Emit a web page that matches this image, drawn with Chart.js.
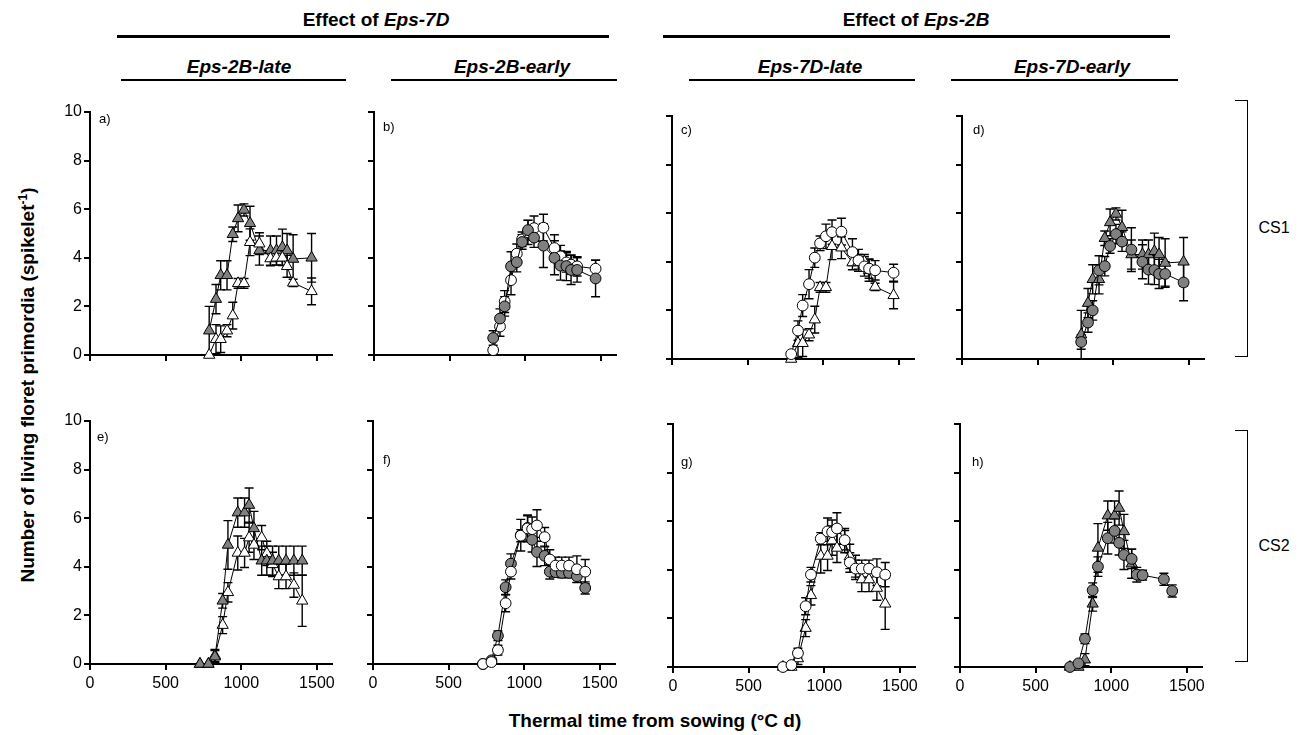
<!DOCTYPE html>
<html>
<head>
<meta charset="utf-8">
<title>Living floret primordia</title>
<script src="https://cdn.jsdelivr.net/npm/chart.js"></script>
<style>
body { margin: 0; background: #fff; font-family: "Liberation Sans", Arial, sans-serif; }
#fig { position: relative; width: 1309px; height: 735px; overflow: hidden; background: #fff; }
.t { position: absolute; white-space: nowrap; color: #000; line-height: 1; }
.c { transform: translate(-50%, -50%); }
.head { font-weight: bold; font-size: 19px; }
.sub { font-weight: bold; font-style: italic; font-size: 19px; }
.lt { font-size: 13px; }
.rule { position: absolute; background: #000; }
.brk { position: absolute; border: 1px solid #000; border-left: none; width: 12px; }
canvas { position: absolute; }
</style>
</head>
<body>
<div id="fig">
  <div class="t c head" style="left:376px; top:19px;">Effect of <i>Eps-7D</i></div>
  <div class="rule" style="left:117px; top:35px; width:492px; height:3px;"></div>
  <div class="t c head" style="left:916px; top:19px;">Effect of <i>Eps-2B</i></div>
  <div class="rule" style="left:663px; top:35px; width:507px; height:3px;"></div>

  <div class="t c sub" style="left:239px; top:66px;">Eps-2B-late</div>
  <div class="rule" style="left:121px; top:79px; width:225px; height:1.5px;"></div>
  <div class="t c sub" style="left:512px; top:66px;">Eps-2B-early</div>
  <div class="rule" style="left:391px; top:79px; width:226px; height:1.5px;"></div>
  <div class="t c sub" style="left:810px; top:66px;">Eps-7D-late</div>
  <div class="rule" style="left:689px; top:79px; width:226px; height:1.5px;"></div>
  <div class="t c sub" style="left:1072px; top:66px;">Eps-7D-early</div>
  <div class="rule" style="left:951px; top:79px; width:227px; height:1.5px;"></div>

  <div class="brk" style="left:1235px; top:100px; height:255px;"></div>
  <div class="t c" style="left:1274px; top:228px; font-size:16px;">CS1</div>
  <div class="brk" style="left:1235px; top:430px; height:230px;"></div>
  <div class="t c" style="left:1274px; top:546px; font-size:16px;">CS2</div>

  <div class="t c head" style="left:27px; top:385px; transform: translate(-50%, -50%) rotate(-90deg);">Number of living floret primordia (spikelet<sup style="font-size:12px;">-1</sup>)</div>
  <div class="t c head" style="left:655px; top:720px;">Thermal time from sowing (°C d)</div>
</div>
<script>
// tick values
const xTicks = [0, 500, 1000, 1500];
const yTicks = [0, 2, 4, 6, 8, 10];

// CS1 sampling dates (°C d)
const cs1Time = [788, 833, 864, 906, 944, 979, 1018, 1058, 1120, 1193, 1233, 1272, 1303, 1343, 1465];
// open triangle = Eps-7D-late / Eps-2B-late
const cs1LateLate    = [0, 0.65, 0.65, 1.0, 1.62, 2.95, 2.95, 4.64, 4.58, 3.97, 4.0, 4.0, 3.65, 2.97, 2.62];
const cs1LateLateErr = [0, 0.6, 0.55, 0.25, 0.55, 0.2, 0.2, 0.55, 0.45, 0.3, 0.3, 0.3, 0.45, 0.15, 0.55];
// grey triangle = Eps-7D-early / Eps-2B-late
const cs1EarlyLate    = [1.0, 2.3, 3.28, 3.28, 4.97, 5.62, 5.97, 5.42, 4.3, 4.3, 4.3, 4.43, 4.3, 3.95, 4.0];
const cs1EarlyLateErr = [1.0, 0.6, 0.6, 0.6, 0.3, 0.55, 0.25, 0.7, 0.6, 0.6, 0.6, 0.75, 0.7, 1.0, 1.0];
// open circle = Eps-7D-late / Eps-2B-early
const cs1LateEarly    = [0.2, 1.17, 2.2, 3.08, 4.17, 4.76, 5.05, 5.22, 5.24, 4.4, 4.06, 3.81, 3.72, 3.65, 3.55];
const cs1LateEarlyErr = [0.1, 0.4, 0.45, 0.6, 0.4, 0.3, 0.5, 0.5, 0.55, 0.55, 0.45, 0.4, 0.4, 0.4, 0.35];
// grey circle = Eps-7D-early / Eps-2B-early
const cs1EarlyEarly    = [0.7, 1.5, 2.0, 3.65, 3.82, 4.65, 5.14, 4.83, 4.5, 4.0, 3.68, 3.66, 3.5, 3.5, 3.15];
const cs1EarlyEarlyErr = [0.3, 0.4, 0.4, 0.6, 0.4, 0.3, 0.4, 0.4, 0.9, 0.7, 0.6, 0.6, 0.6, 0.5, 0.75];

// CS2 sampling dates (°C d)
const cs2Time = [727, 783, 826, 877, 912, 977, 1022, 1052, 1084, 1135, 1169, 1207, 1248, 1296, 1348, 1403];
const cs2LateLate    = [0, 0, 0.35, 1.6, 2.95, 4.57, 4.57, 5.2, 4.9, 5.2, 4.55, 4.1, 3.6, 3.6, 3.25, 2.6];
const cs2LateLateErr = [0, 0, 0.25, 0.35, 0.4, 0.7, 0.6, 0.6, 0.6, 0.5, 0.5, 0.5, 0.5, 0.5, 0.5, 1.05];
const cs2EarlyLate    = [0, 0, 0.3, 2.6, 4.9, 6.23, 6.23, 6.54, 5.58, 4.25, 4.25, 4.25, 4.25, 4.25, 4.25, 4.25];
const cs2EarlyLateErr = [0, 0, 0.25, 0.3, 1.0, 0.6, 0.6, 0.7, 0.7, 0.6, 0.6, 0.6, 0.6, 0.6, 0.6, 0.6];
// panel h shows the grey triangles only up to 1135 °C d
const cs2EarlyLateH   = [0, 0, 0.3, 2.6, 4.9, 6.23, 6.23, 6.54, 5.58, 4.25, null, null, null, null, null, null];
const cs2LateEarly    = [0, 0.08, 0.57, 2.5, 3.8, 5.28, 5.58, 5.55, 5.7, 5.22, 4.3, 4.05, 4.05, 4.05, 3.9, 3.8];
const cs2LateEarlyErr = [0, 0.05, 0.2, 0.35, 0.3, 0.25, 0.55, 0.5, 0.65, 0.4, 0.4, 0.35, 0.35, 0.35, 0.55, 0.5];
const cs2EarlyEarly    = [0, 0.15, 1.16, 3.16, 4.13, 5.3, 5.6, 5.11, 4.61, 4.45, 3.8, 3.78, 3.75, 3.75, 3.61, 3.13];
const cs2EarlyEarlyErr = [0, 0.05, 0.2, 0.3, 0.4, 0.65, 0.5, 0.5, 0.6, 0.4, 0.3, 0.2, 0.2, 0.2, 0.25, 0.25];
// panel h: no grey circles at 1248 and 1296 °C d
const cs2EarlyEarlyH   = [0, 0.15, 1.16, 3.16, 4.13, 5.3, 5.6, 5.11, 4.61, 4.45, 3.8, 3.78, null, null, 3.61, 3.13];

const GREY = '#808080';
const styles = {
  openTri:  { pointStyle: 'triangle', pointRadius: 6.5, pointBackgroundColor: '#fff' },
  greyTri:  { pointStyle: 'triangle', pointRadius: 6.5, pointBackgroundColor: GREY },
  openCirc: { pointStyle: 'circle', pointRadius: 5.4, pointBackgroundColor: '#fff' },
  greyCirc: { pointStyle: 'circle', pointRadius: 5.4, pointBackgroundColor: GREY }
};

// first series listed is drawn on top
const panels = [
  { letter: 'a)', x0: 90,  y0: 355, lx: 99,  ly: 119, yLab: true,  xLab: false, time: cs1Time,
    series: [[cs1LateLate, cs1LateLateErr, 'openTri'], [cs1EarlyLate, cs1EarlyLateErr, 'greyTri']] },
  { letter: 'b)', x0: 374, y0: 355, lx: 383, ly: 127, yLab: false, xLab: false, time: cs1Time,
    series: [[cs1EarlyEarly, cs1EarlyEarlyErr, 'greyCirc'], [cs1LateEarly, cs1LateEarlyErr, 'openCirc']] },
  { letter: 'c)', x0: 672, y0: 359, lx: 681, ly: 130, yLab: false, xLab: false, time: cs1Time,
    series: [[cs1LateEarly, cs1LateEarlyErr, 'openCirc'], [cs1LateLate, cs1LateLateErr, 'openTri']] },
  { letter: 'd)', x0: 962, y0: 359, lx: 973, ly: 130, yLab: false, xLab: false, time: cs1Time,
    series: [[cs1EarlyEarly, cs1EarlyEarlyErr, 'greyCirc'], [cs1EarlyLate, cs1EarlyLateErr, 'greyTri']] },
  { letter: 'e)', x0: 90,  y0: 664, lx: 97,  ly: 437, yLab: true,  xLab: true, time: cs2Time,
    series: [[cs2EarlyLate, cs2EarlyLateErr, 'greyTri'], [cs2LateLate, cs2LateLateErr, 'openTri']] },
  { letter: 'f)', x0: 373, y0: 664, lx: 383, ly: 460, yLab: false, xLab: true, time: cs2Time,
    series: [[cs2LateEarly, cs2LateEarlyErr, 'openCirc'], [cs2EarlyEarly, cs2EarlyEarlyErr, 'greyCirc']] },
  { letter: 'g)', x0: 673, y0: 667, lx: 681, ly: 462, yLab: false, xLab: true, time: cs2Time,
    series: [[cs2LateEarly, cs2LateEarlyErr, 'openCirc'], [cs2LateLate, cs2LateLateErr, 'openTri']] },
  { letter: 'h)', x0: 960, y0: 667, lx: 972, ly: 462, yLab: false, xLab: true, time: cs2Time,
    series: [[cs2EarlyEarlyH, cs2EarlyEarlyErr, 'greyCirc'], [cs2EarlyLateH, cs2EarlyLateErr, 'greyTri']] }
];

// symmetric SEM bars, drawn under the symbols
const errorBars = {
  id: 'errorBars',
  beforeDatasetsDraw(chart) {
    const { ctx } = chart;
    const xs = chart.scales.x, ys = chart.scales.y;
    ctx.save();
    ctx.strokeStyle = '#000';
    ctx.lineWidth = 1.4;
    for (let d = chart.data.datasets.length - 1; d >= 0; d--) {
      const ds = chart.data.datasets[d];
      ds.data.forEach((p, i) => {
        const e = ds.errors[i];
        if (p.y == null || !e) return;
        const px = xs.getPixelForValue(p.x);
        const top = ys.getPixelForValue(p.y + e);
        const bot = ys.getPixelForValue(Math.max(0, p.y - e));
        ctx.beginPath();
        ctx.moveTo(px, top); ctx.lineTo(px, bot);
        ctx.moveTo(px - 4.5, top); ctx.lineTo(px + 4.5, top);
        ctx.moveTo(px - 4.5, bot); ctx.lineTo(px + 4.5, bot);
        ctx.stroke();
      });
    }
    ctx.restore();
  }
};

const fig = document.getElementById('fig');
const AXW = 50, AXH = 40, PADT = 20, PADR = 25, PW = 242, PH = 243;
const tickFont = { family: 'Liberation Sans', size: 16 };

panels.forEach(p => {
  const cv = document.createElement('canvas');
  const W = AXW + PW + PADR, H = PADT + PH + AXH;
  cv.width = W; cv.height = H;
  cv.style.width = W + 'px'; cv.style.height = H + 'px';
  cv.style.left = (p.x0 - AXW) + 'px';
  cv.style.top = (p.y0 - PH - PADT) + 'px';
  fig.appendChild(cv);

  const lab = document.createElement('div');
  lab.className = 't lt';
  lab.style.left = p.lx + 'px';
  lab.style.top = (p.ly - 7) + 'px';
  lab.textContent = p.letter;
  fig.appendChild(lab);

  const datasets = p.series.map(([vals, errs, st]) => Object.assign({
    data: p.time.map((t, i) => ({ x: t, y: vals[i] })),
    errors: errs,
    showLine: true,
    spanGaps: true,
    borderColor: '#000',
    borderWidth: 1,
    pointBorderColor: '#000',
    pointBorderWidth: 1,
    clip: false
  }, styles[st]));

  const axisGrid = { display: true, drawOnChartArea: false, drawTicks: true, tickLength: 6, color: '#000', lineWidth: 2 };

  new Chart(cv, {
    type: 'scatter',
    data: { datasets },
    options: {
      responsive: false,
      animation: false,
      events: [],
      layout: { padding: { top: PADT, right: PADR, left: 0, bottom: 0 } },
      plugins: { legend: { display: false }, tooltip: { enabled: false } },
      scales: {
        x: {
          type: 'linear', min: 0, max: 1600,
          afterBuildTicks: s => { s.ticks = xTicks.map(v => ({ value: v })); },
          afterFit: s => { s.height = AXH; },
          border: { color: '#000', width: 2 },
          grid: axisGrid,
          ticks: { display: p.xLab, color: '#000', font: tickFont, padding: 4, maxRotation: 0, autoSkip: false, callback: v => String(v) }
        },
        y: {
          type: 'linear', min: 0, max: 10,
          afterBuildTicks: s => { s.ticks = yTicks.map(v => ({ value: v })); },
          afterFit: s => { s.width = AXW; },
          border: { color: '#000', width: 2 },
          grid: axisGrid,
          ticks: { display: p.yLab, color: '#000', font: tickFont, padding: 2, callback: v => String(v) }
        }
      }
    },
    plugins: [errorBars]
  });
});
</script>
</body>
</html>
